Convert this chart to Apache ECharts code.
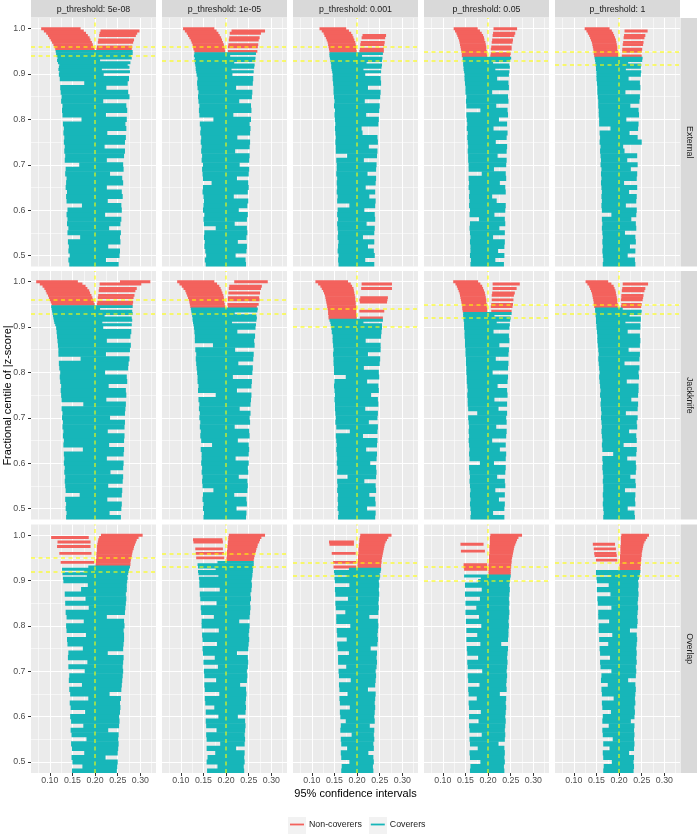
<!DOCTYPE html>
<html>
<head>
<meta charset="utf-8">
<script src="https://cdn.jsdelivr.net/npm/echarts@6/dist/echarts.min.js"></script>
<style>
  html, body { margin: 0; padding: 0; background: #fff; }
  #main { width: 697px; height: 834px; }
</style>
</head>
<body>
<div id="main"></div>
<script>
// facets
var thresholds = ['5e-08', '1e-05', '0.001', '0.05', '1'];
var methods = ['External', 'Jackknife', 'Overlap'];
// tick labels
var xMajor = [0.10, 0.15, 0.20, 0.25, 0.30];
var xMinor = [0.075, 0.125, 0.175, 0.225, 0.275, 0.325];
var yMajor = [0.5, 0.6, 0.7, 0.8, 0.9, 1.0];
var yMinor = [0.55, 0.65, 0.75, 0.85, 0.95];
var trueValue = 0.2;

// all values below are x1000
// fractional centile of rows in the lower part of every panel
var bulkCentile = [480,490,500,510,520,530,540,550,560,570,580,590,600,610,620,630,640,650,660,670,680,
  690,700,710,720,730,740,750,760,770,780,790,800,810,820,830,840,850,860,870,880,890,900];

// External
var ext1Lo = [143,141,144,141,142,140,167,139,141,138,139,137,139,171,137,136,138,135,136,137,134,135,165,133,134,132,133,131,132,130,131,129,170,128,127,128,125,126,124,123,176,122,120];
var ext1Hi = [252,224,254,255,229,256,255,257,231,256,258,222,259,258,228,261,259,226,262,260,233,263,262,226,264,266,221,266,268,227,269,267,270,224,271,269,218,276,273,225,272,275,219];
var ext1Top = [[905,121,277],[910,119,215],[915,120,276],[920,121,272],[925,118,278],[930,116,211],[935,117,281],[940,115,279],[945,114,283],[950,113,203],[950,198,283],
  [955,112,199],[960,110,196],[965,108,195],[970,105,193],[975,102,190],[980,99,188],[985,96,184],[990,92,180],[995,87,175],[1000,81,168],
  [955,203,281],[960,204,282],[970,206,284],[975,207,286],[985,209,290],[990,210,293],[995,212,298]];

var ext2Lo = [155,153,156,154,152,153,151,152,177,151,150,152,149,150,151,150,148,149,168,149,148,147,149,146,147,145,146,144,145,143,144,142,172,141,140,141,139,138,139,137,136,137,135];
var ext2Hi = [244,243,221,245,246,226,245,247,246,219,246,248,228,247,249,217,248,250,249,224,250,251,230,251,252,220,252,253,225,253,254,252,255,216,256,255,229,257,258,222,259,260,214];
var ext2Top = [[905,134,261],[910,133,212],[915,133,262],[920,132,263],[925,131,218],[930,130,264],[935,131,265],[940,129,209],[945,130,266],
  [950,130,198],[955,128,197],[960,127,196],[965,126,195],[970,124,193],[975,122,191],[980,119,189],[985,116,186],[990,113,183],[995,109,179],[1000,105,174],
  [950,204,269],[960,204,270],[965,205,271],[975,206,272],[980,207,274],[990,208,277],[995,212,286]];

var ext3Lo = [159,158,159,157,158,159,157,158,157,156,158,156,157,183,156,157,155,156,155,156,154,155,155,154,178,153,153,152,153,152,151,152,151,150,151,149,150,149,148,148,147,146,146];
var ext3Hi = [238,218,239,237,224,238,213,238,239,221,240,239,216,240,241,227,240,219,241,242,223,242,243,215,244,245,226,246,245,212,210,247,248,220,249,250,217,251,252,224,253,252,218];
var ext3Top = [[905,145,253],[910,144,214],[915,143,254],[920,143,255],[925,142,221],[930,141,255],[935,140,256],[940,139,211],[945,139,257],
  [950,139,199],[955,138,198],[960,137,198],[965,136,197],[970,135,196],[975,133,194],[980,131,192],[985,128,190],[990,126,187],[995,122,182],[1000,117,176],
  [950,205,259],[955,206,259],[965,207,260],[970,208,261],[980,210,262],[985,212,264]];

var ext4Lo = [161,162,160,161,161,160,161,160,159,160,180,159,160,158,159,158,159,157,158,157,186,157,157,156,156,155,156,155,154,155,153,154,153,152,183,152,151,152,150,150,149,148,148];
var ext4Hi = [235,216,236,222,236,237,211,237,225,238,237,214,238,239,219,209,239,238,226,240,239,213,240,241,221,241,242,217,241,243,212,242,224,244,243,218,245,244,209,246,245,220,246];
var ext4Top = [[905,147,247],[910,146,216],[915,146,248],[920,145,247],[925,145,211],[930,144,249],[935,144,251],
  [940,142,198],[945,142,197],[950,141,197],[955,140,196],[960,139,196],[965,138,195],[970,137,194],[975,136,192],[980,134,191],[985,132,189],[990,130,186],[995,127,182],[1000,124,177],
  [940,205,249],[945,206,250],[955,206,252],[960,207,252],[970,208,254],[975,209,255],[985,210,258],[990,211,260],[1000,212,264]];

var ext5Lo = [164,165,164,163,164,163,164,163,162,163,162,183,162,161,162,161,162,161,160,161,160,161,159,160,159,158,159,157,158,157,181,156,156,155,155,154,154,153,152,152,151,150,150];
var ext5Hi = [236,235,219,236,224,237,236,213,238,237,227,238,239,215,238,239,222,240,211,239,240,226,241,218,240,212,209,250,241,223,242,243,216,244,243,225,245,246,214,247,246,221,248];
var ext5Top = [[905,150,249],[910,149,215],[915,149,248],[920,148,249],[925,148,220],[930,147,251],[935,146,252],
  [940,145,198],[945,144,198],[950,144,197],[955,143,196],[960,142,196],[965,141,195],[970,140,194],[975,138,193],[980,136,191],[985,134,189],[990,131,187],[995,128,184],[1000,124,179],
  [940,206,250],[950,207,250],[955,207,251],[965,208,253],[970,209,254],[980,210,256],[985,211,258],[995,212,263]];

// Jackknife
var jack1Lo = [136,137,135,136,134,166,135,134,133,134,132,133,131,132,131,173,130,131,129,130,128,129,127,128,126,174,126,125,124,125,123,122,123,121,120,168,119,119,118,117,116,115,114];
var jack1Hi = [257,232,258,259,227,259,260,229,261,262,234,262,263,226,263,264,231,264,265,228,265,266,233,266,267,268,225,269,268,230,271,270,222,273,274,276,224,277,279,226,278,280,218];
var jack1Top = [[905,112,281],[910,110,216],[915,109,282],[920,108,281],[925,107,221],[930,106,283],[935,105,282],[940,104,211],[945,103,283],
  [950,104,199],[955,102,197],[960,100,196],[965,98,194],[970,96,192],[975,93,189],[980,91,187],[985,88,183],[990,84,179],[995,78,172],[1000,70,162],
  [950,204,283],[955,205,284],[965,206,285],[970,207,287],[980,208,289],[985,209,292],[995,210,302],[1000,255,322]];

var jack2Lo = [150,151,149,150,148,149,172,148,147,148,146,147,145,146,146,144,169,145,143,144,142,143,141,142,140,141,139,177,138,139,137,137,136,135,134,133,134,132,171,131,131,130,129];
var jack2Hi = [244,245,223,246,245,218,247,248,247,228,249,248,250,221,250,251,250,226,252,251,219,253,252,254,230,254,255,256,224,256,257,215,258,259,227,260,261,220,263,262,264,225,265];
var jack2Top = [[905,128,266],[910,127,213],[915,126,267],[920,126,268],[925,125,267],[930,124,219],[935,123,269],[940,122,270],
  [945,121,198],[950,120,197],[955,119,196],[960,118,196],[965,116,195],[970,114,194],[975,112,192],[980,110,190],[985,106,188],[990,102,185],[995,97,180],[1000,92,174],
  [945,204,268],[950,203,272],[960,204,274],[965,204,273],[975,205,275],[985,206,277],[990,207,279],[1000,218,292]];

var jack3Lo = [158,159,157,158,157,158,156,157,156,179,156,157,155,156,155,154,155,154,153,184,154,152,153,152,151,151,150,151,150,149,150,175,149,149,148,148,147,148,147,146,146,144,143];
var jack3Hi = [240,241,222,241,240,227,242,241,216,242,243,242,229,243,244,220,244,245,213,245,246,226,245,246,218,247,246,231,248,247,222,249,248,215,250,251,224,252,252,219,253,254,255];
var jack3Top = [[905,142,255],[910,141,214],[915,139,257],
  [920,137,199],[925,137,199],[930,136,198],[935,136,198],[940,135,198],[945,134,198],[950,133,197],[955,132,197],[960,131,196],[965,130,196],[970,129,195],[975,127,194],[980,125,193],[985,122,192],[990,119,189],[995,114,186],[1000,108,180],
  [920,206,257],[935,205,260],[955,206,266],[960,205,267],[965,207,268],[985,209,277],[995,210,277]];

var jack4Lo = [161,162,161,160,161,160,161,160,159,160,159,158,182,159,158,159,158,157,158,157,158,157,156,176,156,155,155,154,155,154,153,153,152,152,151,151,150,150,149,149,148,148,147];
var jack4Hi = [236,211,236,237,224,237,216,238,237,220,238,239,213,239,240,226,239,209,240,241,218,241,240,242,223,242,214,243,242,221,243,244,210,244,245,217,245,246,225,247,246,212,247];
var jack4Top = [[905,147,248],[910,147,219],[915,146,249],[920,146,250],[925,145,214],[930,145,252],
  [935,144,198],[940,143,198],[945,143,197],[950,142,197],[955,141,196],[960,140,196],[965,139,195],[970,138,194],[975,137,193],[980,135,191],[985,133,189],[990,131,187],[995,128,183],[1000,123,178],
  [935,207,252],[945,206,254],[950,207,255],[960,208,256],[970,208,257],[975,209,259],[985,210,263],[995,210,270]];

var jack5Lo = [165,166,165,164,165,164,165,165,164,165,164,163,164,163,187,163,162,163,162,161,162,161,160,161,160,159,160,158,159,158,157,156,157,156,155,154,155,154,153,152,152,151,150];
var jack5Hi = [235,234,219,236,235,236,213,237,236,225,237,238,237,218,238,239,210,239,238,222,240,239,241,215,241,242,227,242,243,243,217,244,243,245,212,245,246,221,246,247,246,219,247];
var jack5Top = [[905,150,247],[910,149,214],[915,149,248],[920,149,248],[925,148,223],[930,148,249],[935,147,250],[940,147,208],
  [945,145,197],[950,144,197],[955,144,196],[960,143,196],[965,142,195],[970,141,194],[975,140,193],[980,138,192],[985,136,190],[990,134,188],[995,130,183],[1000,126,176],
  [945,204,249],[950,205,250],[960,204,252],[965,205,253],[970,205,254],[980,206,256],[985,207,258],[995,208,264]];

// Overlap
var ovl1Lo = [149,172,150,148,176,149,147,181,148,146,174,147,145,178,146,144,185,145,143,171,142,143,177,141,183,140,141,173,139,138,180,137,136,175,137,135,186,134,179,133,169,184,130];
var ovl1Hi = [248,249,250,223,250,251,252,251,252,229,253,254,253,255,256,255,257,232,258,259,260,261,262,261,262,263,228,262,263,264,264,263,265,264,226,266,267,268,269,268,270,270,271];
var ovl1Top = [[905,129,272],[910,182,271],[915,128,273],[920,176,274],[925,127,275],[930,185,277],
  [935,201,278],[940,202,278],[945,202,279],[950,203,280],[955,203,281],[960,203,282],[965,204,283],[970,204,285],[975,204,286],[980,205,288],[985,206,290],[990,207,292],[995,209,296],[1000,213,305],
  [995,103,186],[985,117,190],[975,116,190],[960,121,192],[940,124,198]];

var ovl2Lo = [158,181,157,159,176,157,187,157,156,179,156,155,183,155,174,154,153,185,153,152,178,152,151,182,150,175,149,148,180,148,147,184,146,146,173,145,144,179,143,142,186,141,141];
var ovl2Hi = [240,239,241,240,241,222,241,242,241,242,243,242,226,243,244,243,244,245,244,231,246,247,246,248,249,248,224,249,250,251,250,251,252,229,252,253,254,253,255,254,256,257,256];
var ovl2Top = [[905,140,257],[910,183,258],[915,139,258],[920,138,259],[925,177,259],[930,138,260],[935,137,261],[940,181,261],
  [945,201,261],[950,201,262],[955,202,263],[960,202,264],[965,202,266],[970,203,267],[975,203,269],[980,204,270],[985,204,273],[990,205,275],[995,205,278],[1000,206,286],
  [990,127,192],[985,128,193],[970,132,193],[960,133,195],[950,134,196]];

var ovl3Lo = [165,166,183,165,164,178,165,164,188,163,164,175,163,162,184,162,161,179,161,160,186,160,159,176,158,158,182,157,156,177,156,155,185,154,154,174,153,152,180,152,151,183,151];
var ovl3Hi = [236,235,237,236,225,237,236,238,237,238,228,239,238,239,240,239,240,241,224,240,241,242,241,243,244,243,244,230,245,246,245,246,247,246,227,247,248,247,248,249,248,249,248];
var ovl3Top = [[905,150,250],[910,177,251],[915,150,250],[920,149,252],[925,182,253],
  [930,201,253],[935,201,253],[940,201,254],[945,202,254],[950,202,255],[955,202,256],[960,203,257],[965,203,258],[970,203,259],[975,204,260],[980,204,261],[985,205,263],[990,205,266],[995,206,269],[1000,207,276],
  [985,138,193],[980,139,193],[960,144,197],[940,147,198],[930,148,198]];

var ovl4Lo = [160,161,183,160,159,177,160,159,186,159,158,179,158,184,158,157,175,157,156,181,156,155,187,155,154,178,154,153,183,152,176,152,185,151,180,150,174,150,182,149,186,149,178];
var ovl4Hi = [236,235,237,236,237,236,223,237,238,237,238,239,238,239,240,239,240,226,241,240,241,242,241,242,243,242,243,244,229,244,245,245,246,245,246,247,246,247,246,247,248,247,248];
var ovl4Top = [[905,184,249],[910,147,250],
  [915,201,250],[920,201,250],[925,201,250],[930,201,251],[935,201,251],[940,202,252],[945,202,252],[950,202,253],[955,202,254],[960,203,255],[965,203,256],[970,203,257],[975,203,258],[980,204,260],[985,204,262],[990,204,264],[995,204,267],[1000,205,275],
  [980,139,190],[965,140,193],[935,146,198],[930,146,198],[925,147,198]];

var ovl5Lo = [165,166,184,165,164,179,165,186,164,163,177,163,164,182,163,162,188,162,161,175,160,161,183,159,158,180,158,157,176,156,185,155,155,178,154,154,183,153,152,181,151,177,151];
var ovl5Hi = [232,233,232,233,222,233,234,233,234,233,234,226,234,235,234,236,235,236,237,236,220,237,238,237,239,238,239,238,239,240,239,224,240,241,240,241,242,241,242,243,242,243,242];
var ovl5Top = [[905,150,244],[910,182,245],[915,149,246],[920,149,247],
  [925,201,247],[930,201,247],[935,201,248],[940,202,248],[945,202,249],[950,202,249],[955,202,250],[960,203,250],[965,203,251],[970,203,252],[975,203,253],[980,204,254],[985,204,256],[990,204,259],[995,204,262],[1000,205,266],
  [980,142,191],[970,144,193],[960,145,194],[955,146,195],[945,149,196]];

// dashed reference centiles per panel (x1000), row by row
var refExt = [[964,937],[960,934],[962,934],[955,926],[954,923]];
var refJack = [[959,932],[957,929],[937,904],[948,917],[955,927]];
var refOvl = [[949,919],[957,927],[944,914],[933,900],[942,911]];

var panelLo = [ext1Lo, ext2Lo, ext3Lo, ext4Lo, ext5Lo, jack1Lo, jack2Lo, jack3Lo, jack4Lo, jack5Lo, ovl1Lo, ovl2Lo, ovl3Lo, ovl4Lo, ovl5Lo];
var panelHi = [ext1Hi, ext2Hi, ext3Hi, ext4Hi, ext5Hi, jack1Hi, jack2Hi, jack3Hi, jack4Hi, jack5Hi, ovl1Hi, ovl2Hi, ovl3Hi, ovl4Hi, ovl5Hi];
var panelTopRows = [ext1Top, ext2Top, ext3Top, ext4Top, ext5Top, jack1Top, jack2Top, jack3Top, jack4Top, jack5Top, ovl1Top, ovl2Top, ovl3Top, ovl4Top, ovl5Top];
var panelRef = refExt.concat(refJack, refOvl);

var FONT = '"Liberation Sans", Arial, Helvetica, sans-serif';
var RED = '#F3625D', TEAL = '#17B6B9';
var panelLeft = [31, 162, 293, 424, 555];
var panelTop = [18, 271, 524.5];
var panelW = 125, panelH = 248.5;
var xMin = 0.0585, xMax = 0.3345, yMin = 0.4757, yMax = 1.0236;

// split rows into coverers / non-coverers, each row filling the band up to its neighbours
function buildRows(lo, hi, top) {
  var rows = [];
  for (var i = 0; i < bulkCentile.length; i++) rows.push([bulkCentile[i], lo[i], hi[i]]);
  top.forEach(function (t) { rows.push(t); });
  var cs = [];
  rows.forEach(function (r) { if (cs.indexOf(r[0]) < 0) cs.push(r[0]); });
  cs.sort(function (a, b) { return a - b; });
  var cover = [], miss = [];
  rows.forEach(function (r) {
    var k = cs.indexOf(r[0]);
    var below = k > 0 ? cs[k - 1] : 2 * cs[0] - cs[1];
    var above = k < cs.length - 1 ? cs[k + 1] : 2 * cs[k] - cs[k - 1];
    var item = [r[1] / 1000, r[2] / 1000, (below + r[0]) / 2000, (r[0] + above) / 2000];
    if (r[1] <= 200 && r[2] >= 200) cover.push(item); else miss.push(item);
  });
  return { cover: cover, miss: miss };
}

function drawRow(params, api) {
  var a = api.coord([api.value(0), api.value(3)]);
  var b = api.coord([api.value(1), api.value(2)]);
  return {
    type: 'rect',
    shape: { x: a[0], y: a[1] - 0.3, width: b[0] - a[0], height: b[1] - a[1] + 0.6 },
    style: { fill: api.visual('color') }
  };
}

var grids = [], xAxes = [], yAxes = [], series = [], graphics = [];

for (var r = 0; r < 3; r++) {
  for (var c = 0; c < 5; c++) {
    var gi = r * 5 + c;
    grids.push({
      left: panelLeft[c], top: panelTop[r], width: panelW, height: panelH,
      show: true, backgroundColor: '#EBEBEB', borderWidth: 0, outerBoundsMode: 'none'
    });
    // major and minor x axes
    xAxes.push({
      gridIndex: gi, type: 'value', min: xMin, max: xMax,
      axisLine: { show: false },
      axisTick: { show: r === 2, length: 3, lineStyle: { color: '#333', width: 1 }, customValues: xMajor },
      axisLabel: { show: r === 2, customValues: xMajor, margin: 3.5, fontSize: 8.8, color: '#4D4D4D', fontFamily: FONT,
        formatter: function (v) { return v.toFixed(2); } },
      splitLine: { show: true, customValues: xMajor, lineStyle: { color: '#FFFFFF', width: 1.1 } }
    });
    xAxes.push({
      gridIndex: gi, type: 'value', min: xMin, max: xMax,
      axisLine: { show: false },
      axisTick: { show: false, customValues: xMinor },
      axisLabel: { show: false },
      splitLine: { show: true, customValues: xMinor, lineStyle: { color: '#FFFFFF', width: 0.55 } }
    });
    yAxes.push({
      gridIndex: gi, type: 'value', min: yMin, max: yMax,
      axisLine: { show: false },
      axisTick: { show: c === 0, length: 3, lineStyle: { color: '#333', width: 1 }, customValues: yMajor },
      axisLabel: { show: c === 0, customValues: yMajor, margin: 5.5, fontSize: 8.8, color: '#4D4D4D', fontFamily: FONT,
        formatter: function (v) { return v.toFixed(1); } },
      splitLine: { show: true, customValues: yMajor, lineStyle: { color: '#FFFFFF', width: 1.1 } }
    });
    yAxes.push({
      gridIndex: gi, type: 'value', min: yMin, max: yMax,
      axisLine: { show: false },
      axisTick: { show: false, customValues: yMinor },
      axisLabel: { show: false },
      splitLine: { show: true, customValues: yMinor, lineStyle: { color: '#FFFFFF', width: 0.55 } }
    });

    var rows = buildRows(panelLo[gi], panelHi[gi], panelTopRows[gi]);
    series.push({
      type: 'custom', name: 'Non-coverers', xAxisIndex: 2 * gi, yAxisIndex: 2 * gi,
      renderItem: drawRow, data: rows.miss, clip: true, z: 2,
      itemStyle: { color: RED }, encode: { x: [0, 1], y: [2, 3] }
    });
    series.push({
      type: 'custom', name: 'Coverers', xAxisIndex: 2 * gi, yAxisIndex: 2 * gi,
      renderItem: drawRow, data: rows.cover, clip: true, z: 2,
      itemStyle: { color: TEAL }, encode: { x: [0, 1], y: [2, 3] },
      markLine: {
        silent: true, symbol: ['none', 'none'], label: { show: false }, animation: false,
        lineStyle: { color: 'rgba(255,255,0,0.72)', type: [4, 3.5], width: 1.5 },
        emphasis: { disabled: true },
        data: [{ xAxis: trueValue }, { yAxis: panelRef[gi][0] / 1000 }, { yAxis: panelRef[gi][1] / 1000 }]
      }
    });
  }
}

// facet strips
thresholds.forEach(function (t, c) {
  graphics.push({ type: 'rect', shape: { x: panelLeft[c], y: 0, width: panelW, height: 17.5 }, style: { fill: '#D9D9D9' }, silent: true });
  graphics.push({ type: 'text', x: panelLeft[c] + panelW / 2, y: 9.2, silent: true,
    style: { text: 'p_threshold: ' + t, font: '8.8px ' + FONT, fill: '#1A1A1A', align: 'center', verticalAlign: 'middle' } });
});
methods.forEach(function (m, r) {
  graphics.push({ type: 'rect', shape: { x: 680.5, y: panelTop[r], width: 17, height: panelH }, style: { fill: '#D9D9D9' }, silent: true });
  graphics.push({ type: 'text', x: 689.5, y: panelTop[r] + panelH / 2, rotation: -Math.PI / 2, silent: true,
    style: { text: m, font: '8.8px ' + FONT, fill: '#1A1A1A', align: 'center', verticalAlign: 'middle' } });
});
// axis titles
graphics.push({ type: 'text', x: 355.5, y: 794, silent: true,
  style: { text: '95% confidence intervals', font: '11px ' + FONT, fill: '#000', align: 'center', verticalAlign: 'middle' } });
graphics.push({ type: 'text', x: 7.5, y: 395.5, rotation: Math.PI / 2, silent: true,
  style: { text: 'Fractional centile of |z-score|', font: '11px ' + FONT, fill: '#000', align: 'center', verticalAlign: 'middle' } });
// legend key backgrounds
graphics.push({ type: 'rect', shape: { x: 288, y: 817, width: 18, height: 17 }, style: { fill: '#F2F2F2' }, silent: true });
graphics.push({ type: 'rect', shape: { x: 369, y: 817, width: 18, height: 17 }, style: { fill: '#F2F2F2' }, silent: true });

var chart = echarts.init(document.getElementById('main'), null, { renderer: 'canvas' });
chart.setOption({
  animation: false,
  backgroundColor: '#FFFFFF',
  grid: grids,
  xAxis: xAxes,
  yAxis: yAxes,
  series: series,
  legend: {
    data: ['Non-coverers', 'Coverers'],
    left: 290, top: 820, padding: 0,
    icon: 'rect', itemWidth: 14, itemHeight: 1.8, itemGap: 9,
    selectedMode: false,
    textStyle: { fontSize: 8.8, color: '#1A1A1A', fontFamily: FONT }
  },
  graphic: { elements: graphics }
});
</script>
</body>
</html>
